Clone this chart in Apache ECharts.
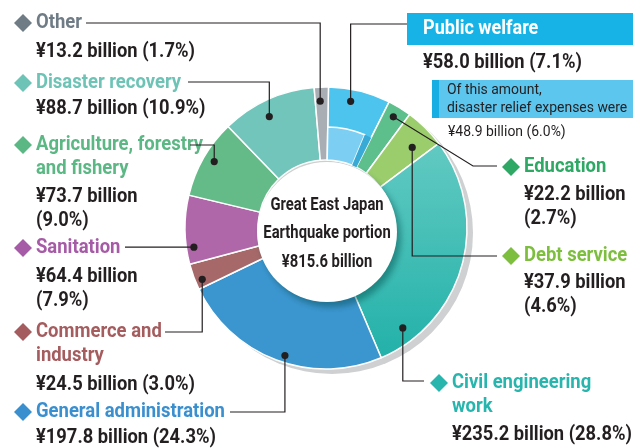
<!DOCTYPE html>
<html>
<head>
<meta charset="utf-8">
<script src="https://cdn.jsdelivr.net/npm/echarts@6/dist/echarts.min.js"></script>
<style>
  html, body { margin: 0; padding: 0; background: #fff; }
  #chart { width: 640px; height: 448px; }
</style>
</head>
<body>
<div id="chart"></div>
<script>
  // data (¥ billion, share %)
  const categories = ['Public welfare', 'Education', 'Debt service', 'Civil engineering\nwork',
    'General administration', 'Commerce and\nindustry', 'Sanitation',
    'Agriculture, forestry\nand fishery', 'Disaster recovery', 'Other']
  const amounts = [58.0, 22.2, 37.9, 235.2, 197.8, 24.5, 64.4, 73.7, 88.7, 13.2]
  const shares = [7.1, 2.7, 4.6, 28.8, 24.3, 3.0, 7.9, 9.0, 10.9, 1.7]
  const reliefAmount = 48.9
  const reliefShare = 6.0
  const totalAmount = 815.6

  const FONT = "Roboto, 'Noto Sans', sans-serif"
  const CX = 326, CY = 228, R_OUT = 141, R_IN = 68

  const sliceColors = ['#4cc4ee', '#5dbf8c', '#9bcd6c',
    {type: 'linear', x: 0, y: 0, x2: 0, y2: 1, colorStops: [{offset: 0, color: '#62cac2'}, {offset: 1, color: '#22b1a9'}]},
    '#3b95cf', '#a66868', '#b067a9', '#64bb88', '#72c5ba', '#a8aeb4']
  const nameColors = ['#fff', '#2fa866', '#7dbe3f', '#27b5ae', '#3a8fcf', '#a55c5e', '#a65ba6', '#5bb783', '#6dc3b6', '#6f7c86']

  // label placement: dot position inside slice (frac, r), text position, leader routing
  const layout = [
    {tx: 423, ty: 29, vy: 63, frac: 0.43, r: 129, line: 'v', ey: 24, ex: 407},
    {tx: 524, ty: 167, vy: 195, wrap: true, frac: 0.57, r: 130, line: 'd', bx: 473, ey: 166, ex: 497},
    {tx: 524, ty: 256, vy: 283, wrap: true, frac: 0.69, r: 118, line: 'v', ey: 256, ex: 497},
    {tx: 452, ty: 383, vy: 435, frac: 0.87, r: 126, line: 'v', ey: 381, ex: 424},
    {tx: 36, ty: 412, vy: 438, frac: 0.48, r: 134, line: 'v', ey: 412, ex: 230},
    {tx: 36, ty: 332, vy: 385, frac: 0.39, r: 134, line: 'v', ey: 332, ex: 165},
    {tx: 36, ty: 248, vy: 277, wrap: true, frac: 0.27, r: 133.5, line: 'h', ex: 125},
    {tx: 36, ty: 145, vy: 197, wrap: true, frac: 0.56, r: 130, line: 'v', ey: 145, ex: 190},
    {tx: 36, ty: 83, vy: 109, frac: 0.46, r: 125, line: 'v', ey: 82, ex: 188},
    {tx: 36, ty: 23, vy: 52, frac: 0.55, r: 127, line: 'v', ey: 23, ex: 86}
  ]

  function fmtAmount(v, p, wrap) {
    return '¥' + v.toFixed(1) + ' billion' + (wrap ? '\n' : ' ') + '(' + p.toFixed(1) + '%)'
  }

  const graphics = []

  // one text element per line so every line is centred on its own y
  function addText(x, y, str, font, color, sx, lh, align) {
    str.split('\n').forEach(function (s, k) {
      graphics.push({type: 'text', z: 11, x: x, y: y + k * lh, scaleX: sx,
        style: {text: s, font: font, fill: color, align: align || 'left', verticalAlign: 'middle'}})
    })
  }

  function diamond(cx, cy, s, color) {
    return {type: 'polygon', z: 10, shape: {points: [[cx, cy - s], [cx + s, cy], [cx, cy + s], [cx - s, cy]]},
      style: {fill: color}}
  }

  // center disc
  graphics.push({type: 'circle', z: 10, shape: {cx: CX + 1, cy: CY + 4, r: 70},
    style: {fill: '#fff', shadowBlur: 6, shadowColor: 'rgba(0,70,70,0.45)', shadowOffsetX: 4, shadowOffsetY: 5}})
  addText(CX + 1, CY - 23, 'Great East Japan\nEarthquake portion\n¥' + totalAmount.toFixed(1) + ' billion',
    'bold 18.5px ' + FONT, '#231f20', 0.8, 28.5, 'center')

  let acc = 0
  amounts.forEach(function (v, i) {
    const L = layout[i]
    const a0 = acc / totalAmount * 360
    acc += v
    const a1 = acc / totalAmount * 360
    const ang = (a0 + (a1 - a0) * L.frac) * Math.PI / 180
    const dx = CX + L.r * Math.sin(ang), dy = CY - L.r * Math.cos(ang)
    let pts
    if (L.line === 'v') pts = [[dx, dy], [dx, L.ey], [L.ex, L.ey]]
    else if (L.line === 'h') pts = [[dx, dy], [L.ex, dy]]
    else pts = [[dx, dy], [L.bx, L.ey], [L.ex, L.ey]]
    graphics.push({type: 'polyline', z: 12, shape: {points: pts}, style: {stroke: '#231f20', lineWidth: 1.2, fill: null}})
    graphics.push({type: 'circle', z: 12, shape: {cx: dx, cy: dy, r: 3.6}, style: {fill: '#231f20'}})

    if (i === 0) {
      graphics.push({type: 'rect', z: 10, shape: {x: 407, y: 13, width: 226, height: 32}, style: {fill: '#17b3e6'}})
      addText(L.tx, L.ty, categories[i], 'bold 20.5px ' + FONT, nameColors[i], 0.88, 24)
    } else {
      graphics.push(diamond(L.tx - 13, L.ty, 9, nameColors[i]))
      addText(L.tx, L.ty, categories[i], 'bold 20.5px ' + FONT, nameColors[i], 0.9, 24)
    }
    addText(L.tx, L.vy, fmtAmount(v, shares[i], L.wrap), 'bold 19.5px ' + FONT, '#231f20', 0.94, 24.5)
  })

  // disaster relief sub-box
  graphics.push({type: 'rect', z: 10, shape: {x: 432, y: 80, width: 201, height: 38}, style: {fill: '#5cc6ee'}})
  graphics.push({type: 'rect', z: 10, shape: {x: 432, y: 80, width: 7, height: 38}, style: {fill: '#16aee3'}})
  addText(447, 90, 'Of this amount,\ndisaster relief expenses were', '15.5px ' + FONT, '#231f20', 0.9, 18)
  addText(448, 132, '¥' + reliefAmount.toFixed(1) + ' billion (' + reliefShare.toFixed(1) + '%)', '15.5px ' + FONT, '#231f20', 0.9, 18)

  const chart = echarts.init(document.getElementById('chart'))
  chart.setOption({
    animation: false,
    graphic: graphics,
    series: [{
      // drop shadow behind the ring
      type: 'pie', z: 1, silent: true, radius: [0, R_OUT], center: [CX + 6, CY + 5],
      label: {show: false}, data: [{value: 1, itemStyle: {color: '#cfd0d1'}}]
    }, {
      type: 'pie', z: 2, silent: true, startAngle: 89, clockwise: true,
      radius: [R_IN, R_OUT], center: [CX, CY],
      label: {show: false}, labelLine: {show: false},
      itemStyle: {borderColor: '#fff', borderWidth: 1.5},
      data: amounts.map(function (v, i) {
        return {value: v, name: categories[i], itemStyle: {color: sliceColors[i]}}
      })
    }, {
      type: 'pie', z: 3, silent: true, startAngle: 89, clockwise: true,
      radius: [R_IN, 101], center: [CX, CY],
      label: {show: false}, labelLine: {show: false},
      data: [
        {value: reliefAmount, itemStyle: {color: '#7ccff3', borderColor: '#fff', borderWidth: 1.5}},
        {value: amounts[0] - reliefAmount, itemStyle: {color: '#39aad6'}},
        {value: totalAmount - amounts[0], itemStyle: {color: 'rgba(0,0,0,0)'}}
      ]
    }]
  })
</script>
</body>
</html>
